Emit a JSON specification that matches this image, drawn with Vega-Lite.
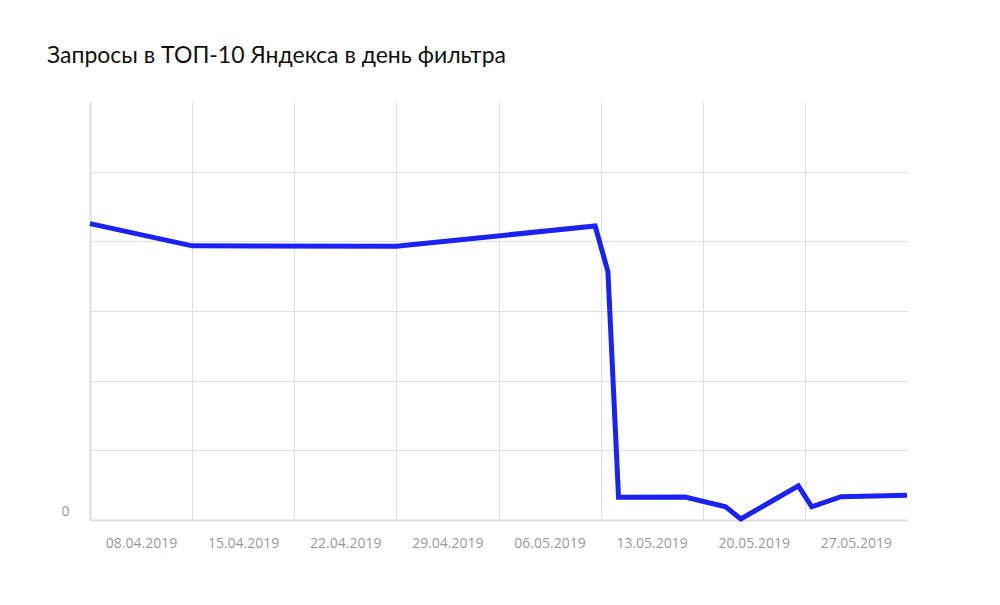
{
  "$schema": "https://vega.github.io/schema/vega-lite/v6.json",
  "width": 817,
  "height": 418,
  "autosize": {"type": "none"},
  "padding": {"left": 90, "top": 102, "right": 93, "bottom": 85},
  "background": "#ffffff",
  "title": {
    "text": "Запросы в ТОП-10 Яндекса в день фильтра",
    "anchor": "start",
    "frame": "group",
    "dx": -43,
    "offset": 16,
    "baseline": "alphabetic",
    "font": "Lato",
    "fontSize": 23,
    "fontWeight": "normal",
    "color": "#111111"
  },
  "data": {
    "values": [
      {"date": "2019-04-04T12:00:00Z", "value": 85.1},
      {"date": "2019-04-11T12:00:00Z", "value": 78.7},
      {"date": "2019-04-25T12:00:00Z", "value": 78.6},
      {"date": "2019-05-09T03:00:00Z", "value": 84.4},
      {"date": "2019-05-10T00:00:00Z", "value": 71.3},
      {"date": "2019-05-10T17:30:00Z", "value": 6.5},
      {"date": "2019-05-15T07:00:00Z", "value": 6.6},
      {"date": "2019-05-18T01:40:00Z", "value": 3.8},
      {"date": "2019-05-19T02:30:00Z", "value": 0.3},
      {"date": "2019-05-23T01:15:00Z", "value": 9.8},
      {"date": "2019-05-23T23:20:00Z", "value": 3.8},
      {"date": "2019-05-25T23:30:00Z", "value": 6.7},
      {"date": "2019-05-30T12:00:00Z", "value": 7.1}
    ]
  },
  "mark": {"type": "line", "color": "#1a22f5", "strokeWidth": 5, "strokeJoin": "miter", "clip": false},
  "encoding": {
    "x": {
      "field": "date",
      "type": "temporal",
      "scale": {
        "type": "utc",
        "nice": false,
        "domain": [
          {"year": 2019, "month": 4, "date": 4, "hours": 12, "utc": true},
          {"year": 2019, "month": 5, "date": 30, "hours": 12, "utc": true}
        ]
      },
      "axis": {
        "title": null,
        "values": [
          {"year": 2019, "month": 4, "date": 4, "hours": 12, "utc": true},
          {"year": 2019, "month": 4, "date": 11, "hours": 12, "utc": true},
          {"year": 2019, "month": 4, "date": 18, "hours": 12, "utc": true},
          {"year": 2019, "month": 4, "date": 25, "hours": 12, "utc": true},
          {"year": 2019, "month": 5, "date": 2, "hours": 12, "utc": true},
          {"year": 2019, "month": 5, "date": 9, "hours": 12, "utc": true},
          {"year": 2019, "month": 5, "date": 16, "hours": 12, "utc": true},
          {"year": 2019, "month": 5, "date": 23, "hours": 12, "utc": true}
        ],
        "labelExpr": "utcFormat(datum.value + 302400000, '%d.%m.%Y')",
        "labelOffset": 51,
        "labelBaseline": "alphabetic",
        "labelPadding": 27,
        "labelFont": "Open Sans",
        "labelFontSize": 14,
        "labelColor": "#9a9a9a",
        "labelOverlap": false,
        "labelFlush": false,
        "labelBound": false,
        "ticks": false,
        "grid": true,
        "gridColor": "#e0e0e0",
        "gridWidth": 1,
        "domainColor": "#dedede",
        "domainWidth": 2
      }
    },
    "y": {
      "field": "value",
      "type": "quantitative",
      "scale": {"domain": [0, 120], "nice": false},
      "axis": {
        "title": null,
        "values": [0, 20, 40, 60, 80, 100],
        "labelExpr": "datum.value == 0 ? '0' : ''",
        "labelBaseline": "alphabetic",
        "labelOffset": -5,
        "labelPadding": 21,
        "labelFont": "Open Sans",
        "labelFontSize": 14,
        "labelColor": "#9a9a9a",
        "ticks": false,
        "grid": true,
        "gridColor": "#e0e0e0",
        "gridWidth": 1,
        "domainColor": "#dedede",
        "domainWidth": 2
      }
    }
  },
  "config": {"view": {"stroke": null}}
}
